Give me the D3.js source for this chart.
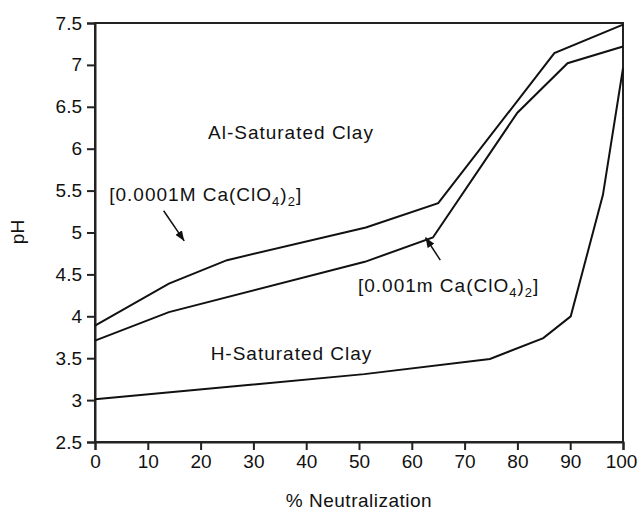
<!DOCTYPE html>
<html>
<head>
<meta charset="utf-8">
<script src="https://cdn.jsdelivr.net/npm/d3@7"></script>
<style>
  body { margin: 0; background: #fff; }
  text { font-family: "Liberation Sans", Arial, sans-serif; fill: #111; }
</style>
</head>
<body>
<script>
// data
const lowSaltNeut = [0, 14, 25, 51.3, 65, 87, 100];
const lowSaltPH = [3.89, 4.39, 4.67, 5.06, 5.35, 7.14, 7.48];
const highSaltNeut = [0, 14, 51.1, 64, 80, 89.5, 100];
const highSaltPH = [3.71, 4.05, 4.65, 4.94, 6.43, 7.02, 7.22];
const hClayNeut = [0, 51, 74.8, 84.9, 90.1, 96.2, 100];
const hClayPH = [3.01, 3.31, 3.49, 3.74, 4.0, 5.45, 6.96];
const xTicks = [0, 10, 20, 30, 40, 50, 60, 70, 80, 90, 100];
const yTicks = [2.5, 3, 3.5, 4, 4.5, 5, 5.5, 6, 6.5, 7, 7.5];

const margin = {top: 23, right: 15, bottom: 69, left: 95},
    W = 638, H = 511,
    width = W - margin.left - margin.right,
    height = H - margin.top - margin.bottom;

const svg = d3.select("body").append("svg")
    .attr("width", W)
    .attr("height", H);

const g = svg.append("g")
    .attr("transform", "translate(" + margin.left + "," + margin.top + ")");

const x = d3.scaleLinear().domain([0, 100]).range([0, width]);
const y = d3.scaleLinear().domain([2.5, 7.5]).range([height, 0]);

svg.append("defs").append("marker")
    .attr("id", "arrow")
    .attr("viewBox", "0 0 10 8")
    .attr("refX", 10).attr("refY", 4)
    .attr("markerUnits", "userSpaceOnUse")
    .attr("markerWidth", 10).attr("markerHeight", 8)
    .attr("orient", "auto")
    .append("path")
    .attr("d", "M0,0L10,4L0,8z")
    .attr("fill", "#111");

// frame
g.append("rect")
    .attr("width", width).attr("height", height)
    .attr("fill", "none").attr("stroke", "#222").attr("stroke-width", 2);

const xAxis = g.append("g")
    .attr("transform", "translate(0," + height + ")")
    .call(d3.axisBottom(x).tickValues(xTicks).tickSize(8).tickPadding(5).tickFormat(d3.format("d")));
const yAxis = g.append("g")
    .call(d3.axisLeft(y).tickValues(yTicks).tickSize(8).tickPadding(5).tickFormat(d => d));

[xAxis, yAxis].forEach(a => {
    a.select(".domain").attr("stroke", "#222").attr("stroke-width", 2);
    a.selectAll(".tick line").attr("stroke", "#222").attr("stroke-width", 2);
    a.selectAll(".tick text")
        .attr("fill", "#111")
        .style("font-size", "19px")
        .style("font-family", "'Liberation Sans', Arial, sans-serif");
});
// keep "100" inside the window
xAxis.selectAll(".tick text").filter(d => d === 100).attr("dx", -2);

const line = d3.line()
    .x(d => x(d[0]))
    .y(d => y(d[1]));

const series = [
    [lowSaltNeut, lowSaltPH],
    [highSaltNeut, highSaltPH],
    [hClayNeut, hClayPH]
];

g.selectAll(".curve")
    .data(series)
    .enter().append("path")
    .attr("class", "curve")
    .attr("d", s => line(s[0].map((v, i) => [v, s[1][i]])))
    .attr("fill", "none")
    .attr("stroke", "#111")
    .attr("stroke-width", 2)
    .attr("stroke-linejoin", "miter");

// text labels, subscripts as smaller lowered tspans
function label(xp, yp, parts) {
    const t = g.append("text")
        .attr("x", x(xp)).attr("y", y(yp))
        .style("font-size", "19px")
        .style("letter-spacing", "1px");
    let shift = 0;
    parts.forEach(p => {
        if (p.sub) {
            t.append("tspan").attr("dy", 5 - shift).style("font-size", "13px").text(p.sub);
            shift = 5;
        } else {
            t.append("tspan").attr("dy", -shift).text(p.t);
            shift = 0;
        }
    });
    return t;
}

label(21.4, 6.11, [{t: "Al-Saturated Clay"}]);
label(2.7, 5.38, [{t: "[0.0001M Ca(ClO"}, {sub: "4"}, {t: ")"}, {sub: "2"}, {t: "]"}]);
label(49.8, 4.29, [{t: "[0.001m Ca(ClO"}, {sub: "4"}, {t: ")"}, {sub: "2"}, {t: "]"}]);
label(21.9, 3.48, [{t: "H-Saturated Clay"}]);

// arrows
g.append("line")
    .attr("x1", x(13.0)).attr("y1", y(5.26))
    .attr("x2", x(16.9)).attr("y2", y(4.9))
    .attr("stroke", "#111").attr("stroke-width", 1.5)
    .attr("marker-end", "url(#arrow)");
g.append("line")
    .attr("x1", x(65.4)).attr("y1", y(4.67))
    .attr("x2", x(62.6)).attr("y2", y(4.94))
    .attr("stroke", "#111").attr("stroke-width", 1.5)
    .attr("marker-end", "url(#arrow)");

// axis titles
svg.append("text")
    .attr("x", 359).attr("y", 507)
    .attr("text-anchor", "middle")
    .style("font-size", "19px")
    .style("letter-spacing", "0.5px")
    .text("% Neutralization");

svg.append("text")
    .attr("transform", "translate(24,232) rotate(-90)")
    .attr("text-anchor", "middle")
    .style("font-size", "19px")
    .text("pH");
</script>
</body>
</html>
